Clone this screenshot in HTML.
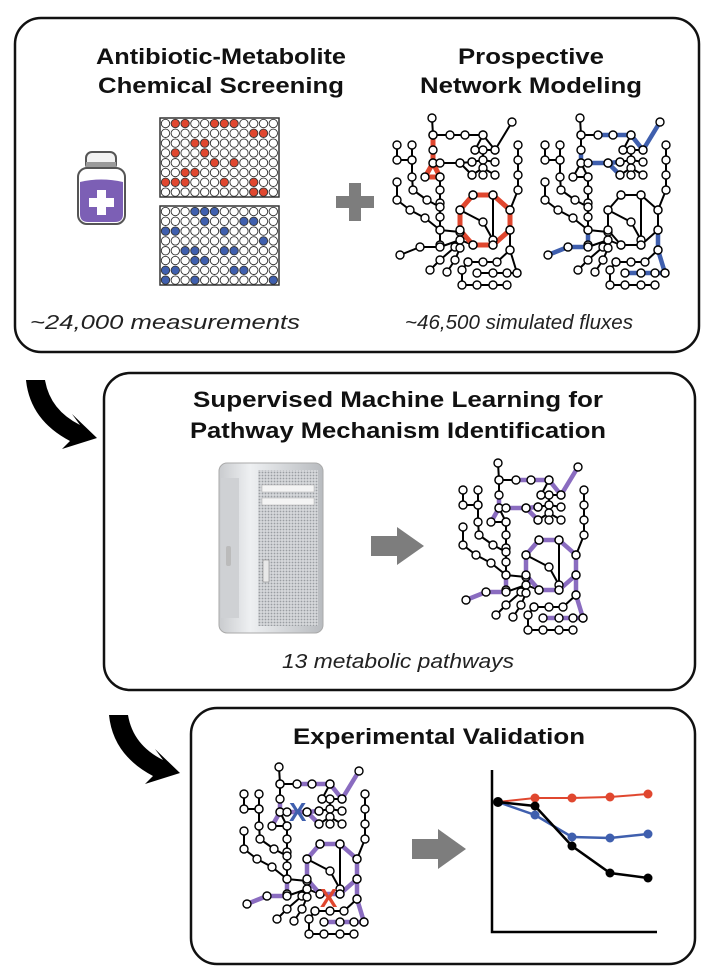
<!DOCTYPE html>
<html><head><meta charset="utf-8"><style>
html,body{margin:0;padding:0;background:#fff;width:714px;height:966px;overflow:hidden}
svg{display:block}
.t{font-family:"Liberation Sans",sans-serif;font-weight:bold;font-size:22px;fill:#111}
.i{font-family:"Liberation Sans",sans-serif;font-style:italic;font-size:20px;fill:#222}
</style></head><body>
<svg id="s" width="714" height="966" viewBox="0 0 714 966" xmlns="http://www.w3.org/2000/svg">
<defs>
<linearGradient id="mac" x1="0" x2="1">
<stop offset="0" stop-color="#c9cbce"/><stop offset="0.3" stop-color="#eef0f2"/><stop offset="1" stop-color="#b8bbbf"/></linearGradient>
<pattern id="grill" width="3" height="3" patternUnits="userSpaceOnUse"><rect width="3" height="3" fill="#d6d8db"/><circle cx="1.5" cy="1.5" r="0.9" fill="#9a9da2"/></pattern>
</defs>
<rect x="15" y="18" width="684" height="334" rx="26" fill="none" stroke="#111" stroke-width="2.5"/>
<rect x="104" y="373" width="591" height="317" rx="26" fill="none" stroke="#111" stroke-width="2.5"/>
<rect x="191" y="708" width="504" height="256" rx="26" fill="none" stroke="#111" stroke-width="2.5"/>
<text class="t" x="221" y="64" text-anchor="middle" textLength="250" lengthAdjust="spacingAndGlyphs">Antibiotic-Metabolite</text>
<text class="t" x="221" y="93" text-anchor="middle" textLength="246" lengthAdjust="spacingAndGlyphs">Chemical Screening</text>
<text class="t" x="531" y="64" text-anchor="middle" textLength="146" lengthAdjust="spacingAndGlyphs">Prospective</text>
<text class="t" x="531" y="93" text-anchor="middle" textLength="222" lengthAdjust="spacingAndGlyphs">Network Modeling</text>
<text class="i" x="165" y="329" text-anchor="middle" textLength="270" lengthAdjust="spacingAndGlyphs">~24,000 measurements</text>
<text class="i" x="519" y="329" text-anchor="middle" textLength="228" lengthAdjust="spacingAndGlyphs">~46,500 simulated fluxes</text>
<text class="t" x="398" y="407" text-anchor="middle" textLength="410" lengthAdjust="spacingAndGlyphs">Supervised Machine Learning for</text>
<text class="t" x="398" y="438" text-anchor="middle" textLength="416" lengthAdjust="spacingAndGlyphs">Pathway Mechanism Identification</text>
<text class="i" x="398" y="668" text-anchor="middle" textLength="232" lengthAdjust="spacingAndGlyphs">13 metabolic pathways</text>
<text class="t" x="439" y="744" text-anchor="middle" textLength="292" lengthAdjust="spacingAndGlyphs">Experimental Validation</text>
<rect x="86" y="152" width="30" height="18" rx="6" fill="#f2f2f2" stroke="#555" stroke-width="2"/>
<rect x="86" y="162" width="30" height="7" fill="#9a9a9a"/>
<rect x="78" y="168" width="47" height="56" rx="9" fill="#fff" stroke="#555" stroke-width="2"/>
<path d="M80 182 Q101 177 123 182 L123 214 Q123 222 115 222 L88 222 Q80 222 80 214 Z" fill="#7c5fb5"/>
<path d="M97 190 h9 v8 h8 v9 h-8 v8 h-9 v-8 h-8 v-9 h8z" fill="#fff"/>
<path d="M349 183 h12 v13 h13 v12 h-13 v13 h-12 v-13 h-13 v-12 h13z" fill="#7d7d7d"/>
<g id="plates"></g>
<g id="nets"></g>
<g id="ca">
<path d="M26 380 L45 380 Q50 410 80 425 L72 414 L97 438 L62 449 L70 441 Q30 420 26 380Z" fill="#000"/>
</g>
<use href="#ca" x="83" y="335"/>
<rect x="219" y="463" width="104" height="170" rx="8" fill="url(#mac)" stroke="#aaa"/>
<rect x="221" y="478" width="18" height="140" fill="#cfd1d4"/>
<rect x="258" y="470" width="60" height="156" fill="url(#grill)"/>
<rect x="262" y="485" width="52" height="7" fill="#f4f4f4" stroke="#aaa" stroke-width=".5"/>
<rect x="262" y="498" width="52" height="7" fill="#f4f4f4" stroke="#aaa" stroke-width=".5"/>
<rect x="263" y="560" width="6" height="22" fill="#e8e8e8" stroke="#777" stroke-width=".5"/>
<rect x="226" y="546" width="5" height="20" rx="2" fill="#bbb"/>
<path d="M371 536 h26 v-9 l27 19 l-27 19 v-9 h-26z" fill="#7d7d7d"/>
<path d="M412 839 h26 v-10 l28 20 l-28 20 v-10 h-26z" fill="#7d7d7d"/>
<path d="M492 770 V932 H657" fill="none" stroke="#000" stroke-width="2.5"/>
<g id="chart"></g>
</svg>
<script>
var NS="http://www.w3.org/2000/svg";
function el(p,n,a){var e=document.createElementNS(NS,n);for(var k in a)e.setAttribute(k,a[k]);p.appendChild(e);return e;}
var pl=document.getElementById("plates");
var red=[[1,2,5,6,7],[9,10],[3,4],[1,4],[5,7],[2,3],[0,1,2,6,9],[9,10]];
var blue=[[3,4,5],[4,8,9],[0,1,6],[10],[2,3,6,7],[3,4],[0,1,7,8],[0,3,11]];
function plate(y0,hl,col){
 el(pl,"rect",{x:160,y:y0,width:119,height:79,fill:"#fff",stroke:"#333","stroke-width":1.5});
 for(var r=0;r<8;r++)for(var c=0;c<12;c++){
  var on=hl[r].indexOf(c)>=0;
  el(pl,"circle",{cx:165.5+c*9.8,cy:y0+5.5+r*9.8,r:4.2,fill:on?col:"#fff",stroke:"#333","stroke-width":0.9});
 }}
plate(118,red,"#e0472f");plate(206,blue,"#3f5fae");
var lines=[
[[52,18],[53,35]],
[[53,35],[70,35],[85,35],[103,35],[115,50],[132,22]],
[[53,35],[53,50],[53,63],[45,77],[60,77],[53,63]],
[[60,63],[80,63],[92,62]],[[80,63],[92,75]],
[[95,50],[115,50]],[[92,62],[103,60],[115,62]],[[92,75],[103,68],[115,75]],[[103,50],[103,75]],[[95,50],[103,35]],
[[60,77],[60,90],[60,103],[60,117],[60,130],[60,145]],
[[17,45],[17,60],[32,60]],[[32,45],[32,60],[32,77],[33,90],[47,100],[60,107]],
[[17,82],[17,100],[30,110],[45,118],[60,130],[80,132]],
[[93,95],[113,95],[130,110],[130,130],[113,145],[93,145],[80,130],[80,110],[93,95]],
[[80,110],[103,122],[113,140]],[[113,95],[113,145]],
[[138,45],[138,60],[138,75],[138,90],[130,110]],
[[130,130],[130,150],[137,173]],[[88,162],[103,162],[117,162],[130,150]],
[[97,173],[113,173],[127,173],[137,173]],[[88,162],[82,170],[82,185],[97,185],[113,185],[127,185]],
[[20,155],[40,147],[60,147],[80,140],[93,145]],[[50,170],[60,160],[75,147]],[[67,172],[75,160],[80,148]]
];
var nodes=[];lines.forEach(function(l){l.forEach(function(p){nodes.push(p)})});
var oct=[[93,95],[113,95],[130,110],[130,130],[113,145],[93,145],[80,130],[80,110],[93,95]];
var hr=[oct,[[53,35],[53,50],[53,63],[45,77],[60,77],[53,63]]];
var hb=[[[70,35],[85,35],[103,35],[115,50],[132,22]],[[53,63],[60,63],[80,63],[92,62]],[[80,63],[92,75]],[[53,50],[53,63]],
[[130,130],[130,150],[137,173],[127,173],[113,173],[97,173]],[[20,155],[40,147],[60,147],[60,130]]];
var hp=hb.concat([oct,[[45,77],[53,63]]]);
var nets=document.getElementById("nets");
function pts(l){return l.map(function(p){return p.join(",")}).join(" ")}
function net(ox,oy,hl,col,w){
 var g=el(nets,"g",{transform:"translate("+ox+","+oy+")"});
 lines.forEach(function(l){el(g,"polyline",{points:pts(l),fill:"none",stroke:"#000","stroke-width":2,"stroke-linejoin":"round"})});
 hl.forEach(function(l){el(g,"polyline",{points:pts(l),fill:"none",stroke:col,"stroke-width":w,"stroke-linejoin":"round","stroke-linecap":"round"})});
 nodes.forEach(function(p){el(g,"circle",{cx:p[0],cy:p[1],r:4,fill:"#fff",stroke:"#000","stroke-width":1.4})});
 return g;
}
net(380,100,hr,"#e0472f",5);
net(528,100,hb,"#3f5fae",4.5);
net(446,445,hp,"#8a6cc0",4.5);
var g4=net(227,749,hp,"#8a6cc0",4.5);
el(g4,"text",{x:62,y:72,"font-family":"Liberation Sans,sans-serif","font-weight":"bold","font-size":"26",fill:"#3f5fae"}).textContent="X";
el(g4,"text",{x:93,y:158,"font-family":"Liberation Sans,sans-serif","font-weight":"bold","font-size":"26",fill:"#e0472f"}).textContent="X";
var ch=document.getElementById("chart");
var st=[498,802];
var series=[["#e0472f",2,[[535,798],[572,798],[610,797],[648,794]]],
["#3f5fae",2.5,[[535,815],[572,837],[610,838],[648,834]]],
["#000",2.5,[[535,806],[572,846],[610,873],[648,878]]]];
series.forEach(function(s){var p=[st].concat(s[2]);
 el(ch,"polyline",{points:pts(p),fill:"none",stroke:s[0],"stroke-width":s[1]});
 s[2].forEach(function(q){el(ch,"circle",{cx:q[0],cy:q[1],r:4.5,fill:s[0]})});});
el(ch,"circle",{cx:498,cy:802,r:5,fill:"#000"});
</script>
</body></html>
